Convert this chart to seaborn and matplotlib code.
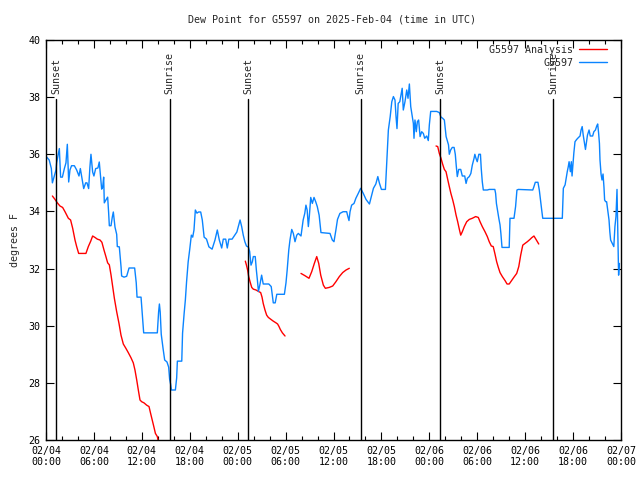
import numpy as np
import pandas as pd
import matplotlib
matplotlib.use("Agg")
import matplotlib.pyplot as plt
import seaborn as sns

# ---------------- data (hours since 2025-02-04 00:00 UTC, dew point in F) ----------------
obs_hours = [
    0.0, 0.4, 0.67, 0.8, 1.0, 1.25, 1.33, 1.54, 1.67, 1.83, 2.05, 2.3, 2.5, 2.67, 2.84, 3.0,
    3.2, 3.55, 3.84, 4.13, 4.3, 4.5, 4.72, 4.97, 5.13, 5.34, 5.5, 5.63, 5.84, 6.0, 6.22, 6.5,
    6.67, 6.84, 6.97, 7.1, 7.22, 7.3, 7.5, 7.72, 7.84, 7.93, 8.14, 8.3, 8.43, 8.64, 8.85, 8.93,
    9.18, 9.27, 9.4, 9.47, 9.77, 10.1, 10.4, 11.1, 11.3, 11.4, 11.9, 12.06, 12.23, 13.94, 14.1, 14.2,
    14.3, 14.43, 14.65, 14.86, 15.15, 15.36, 15.48, 15.6, 15.7, 16.2, 16.36, 16.45, 17.0, 17.1, 17.3, 17.45,
    17.6, 17.8, 18.0, 18.2, 18.37, 18.53, 18.7, 18.9, 19.1, 19.37, 19.57, 19.8, 20.1, 20.4, 20.8, 21.16,
    21.45, 21.7, 22.0, 22.2, 22.5, 22.7, 22.9, 23.3, 23.9, 24.3, 24.5, 24.7, 24.9, 25.1, 25.35, 25.5,
    25.67, 25.84, 25.96, 26.2, 26.34, 26.47, 26.6, 26.8, 27.0, 27.2, 27.9, 28.2, 28.46, 28.7, 28.9, 29.85,
    30.05, 30.2, 30.4, 30.55, 30.77, 30.97, 31.18, 31.4, 31.6, 31.93, 32.2, 32.4, 32.55, 32.7, 32.85, 32.97,
    33.15, 33.35, 33.56, 33.77, 33.97, 34.2, 34.43, 35.56, 35.85, 36.06, 36.3, 36.5, 36.8, 37.2, 37.65, 37.8,
    37.94, 38.07, 38.27, 38.57, 38.8, 39.1, 39.4, 39.73, 40.07, 40.5, 40.73, 41.0, 41.3, 41.55, 41.74, 42.0,
    42.5, 42.7, 42.87, 43.1, 43.3, 43.5, 43.7, 43.83, 43.95, 44.1, 44.3, 44.6, 44.74, 44.95, 45.17, 45.33,
    45.5, 45.67, 45.83, 46.0, 46.08, 46.2, 46.37, 46.5, 46.66, 46.84, 47.04, 47.25, 47.42, 47.67, 47.87, 48.0,
    48.17, 48.92, 49.25, 49.46, 49.67, 49.88, 50.1, 50.4, 50.5, 50.67, 50.87, 51.1, 51.25, 51.38, 51.5, 51.68,
    51.93, 52.13, 52.43, 52.6, 52.76, 53.0, 53.2, 53.38, 53.6, 53.7, 53.84, 54.0, 54.2, 54.4, 54.5, 54.63,
    54.76, 55.26, 55.5, 56.2, 56.3, 56.4, 56.6, 56.7, 56.85, 56.96, 57.1, 58.0, 58.1, 58.6, 58.8, 58.97,
    59.15, 60.95, 61.1, 61.27, 61.6, 61.77, 61.94, 62.07, 62.2, 64.65, 64.78, 65.0, 65.1, 65.27, 65.4, 65.5,
    65.66, 65.78, 65.87, 66.0, 66.1, 66.24, 66.45, 66.65, 66.87, 67.0, 67.14, 67.27, 67.4, 67.55, 67.68, 67.8,
    68.0, 68.15, 68.45, 68.6, 68.8, 68.96, 69.08, 69.2, 69.3, 69.37, 69.5, 69.62, 69.75, 69.87, 69.95, 70.08,
    70.2, 70.37, 70.5, 70.6, 70.7, 70.87, 71.1, 71.24, 71.37, 71.45, 71.5, 71.6, 71.7, 71.8,
]
obs_dewpt = [
    35.93, 35.8, 35.5, 35.0, 35.2, 35.45, 35.7, 36.0, 36.2, 35.2, 35.2, 35.5, 35.7, 36.35, 35.03, 35.45,
    35.6, 35.6, 35.45, 35.24, 35.5, 35.17, 34.8, 35.0, 35.0, 34.8, 35.56, 36.0, 35.38, 35.24, 35.5, 35.52,
    35.73, 35.2, 34.78, 34.86, 35.2, 34.3, 34.4, 34.5, 33.97, 33.5, 33.5, 33.8, 33.98, 33.45, 33.2, 32.77,
    32.76, 32.47, 32.05, 31.74, 31.7, 31.73, 32.02, 32.02, 31.5, 31.0, 31.0, 30.37, 29.75, 29.75, 30.48, 30.76,
    30.48, 29.7, 29.22, 28.8, 28.73, 28.55, 28.13, 27.96, 27.75, 27.75, 28.17, 28.76, 28.76, 29.74, 30.44, 30.9,
    31.53, 32.23, 32.68, 33.17, 33.1, 33.35, 34.05, 33.94, 33.98, 33.98, 33.7, 33.1, 33.03, 32.76, 32.68, 33.0,
    33.35, 33.0, 32.72, 33.03, 33.03, 32.72, 33.03, 33.03, 33.28, 33.7, 33.47, 33.17, 32.94, 32.79, 32.75, 32.6,
    32.12, 32.24, 32.42, 32.42, 31.95, 31.6, 31.2, 31.46, 31.77, 31.46, 31.46, 31.37, 30.8, 30.8, 31.1, 31.1,
    31.5, 31.95, 32.65, 33.0, 33.37, 33.23, 32.94, 33.17, 33.23, 33.14, 33.7, 33.93, 34.22, 34.05, 33.47, 33.82,
    34.49, 34.28, 34.49, 34.34, 34.17, 33.87, 33.26, 33.23, 33.0, 32.94, 33.35, 33.72, 33.93, 33.99, 33.99, 33.82,
    33.68, 33.99, 34.22, 34.28, 34.46, 34.63, 34.81, 34.63, 34.42, 34.26, 34.52, 34.81, 34.96, 35.22, 35.0, 34.77,
    34.77, 35.92, 36.85, 37.32, 37.84, 38.02, 37.9, 37.32, 36.9, 37.78, 37.84, 38.31, 37.55, 37.84, 38.25, 37.96,
    38.46, 37.67, 37.38, 37.08, 36.56, 37.2, 36.79, 37.14, 37.2, 36.62, 36.79, 36.73, 36.56, 36.64, 36.48, 37.03,
    37.5, 37.5, 37.46, 37.3, 37.26, 37.2, 36.62, 36.33, 36.0, 36.15, 36.24, 36.24, 36.0, 35.57, 35.22, 35.47,
    35.47, 35.24, 35.24, 34.98, 35.16, 35.22, 35.33, 35.62, 35.86, 36.0, 35.86, 35.74, 36.0, 36.0, 35.5, 35.04,
    34.75, 34.75, 34.77, 34.77, 34.63, 34.28, 33.93, 33.76, 33.53, 33.23, 32.74, 32.74, 33.76, 33.76, 34.17, 34.75,
    34.77, 34.75, 34.87, 35.02, 35.02, 34.75, 34.34, 34.05, 33.76, 33.76, 34.81, 34.93, 35.1, 35.39, 35.57, 35.74,
    35.39, 35.74, 35.24, 35.68, 36.06, 36.44, 36.52, 36.58, 36.64, 36.85, 36.97, 36.67, 36.44, 36.17, 36.44, 36.67,
    36.85, 36.64, 36.64, 36.79, 36.85, 36.99, 37.06, 36.73, 36.38, 35.8, 35.31, 35.1, 35.31, 34.84, 34.4, 34.34,
    34.34, 33.99, 33.7, 33.29, 33.0, 32.9, 32.77, 33.47, 33.82, 34.46, 34.77, 33.23, 31.77, 32.18,
]

# analysis series, four separate runs (the record has gaps between them)
ana1_hours = [
    0.8, 1.13, 1.42, 1.75, 2.08, 2.38, 2.8, 3.08, 3.34, 3.63, 3.84, 4.09, 5.0, 5.3, 5.6, 5.84,
    6.13, 6.43, 6.76, 7.0, 7.26, 7.5, 7.72, 7.93, 8.14, 8.35, 8.56, 8.85, 9.14, 9.39, 9.68, 10.0,
    10.3, 10.64, 10.93, 11.14, 11.36, 11.56, 11.77, 11.98, 12.27, 12.6, 12.9, 13.1, 13.3, 13.5, 13.7, 13.94,
    14.1, 14.3,
]
ana1_dewpt = [
    34.54, 34.42, 34.3, 34.19, 34.14, 33.99, 33.76, 33.7, 33.41, 33.0, 32.77, 32.53, 32.53, 32.77, 32.96, 33.14,
    33.09, 33.03, 33.0, 32.92, 32.65, 32.42, 32.2, 32.13, 31.78, 31.37, 30.96, 30.49, 30.08, 29.67, 29.36, 29.21,
    29.06, 28.88, 28.7, 28.45, 28.1, 27.75, 27.4, 27.34, 27.3, 27.22, 27.17, 26.93, 26.7, 26.47, 26.23, 26.12,
    25.9, 25.6,
]
ana2_hours = [
    24.96, 25.1, 25.26, 25.38, 25.55, 25.76, 25.96, 26.3, 26.6, 26.88, 27.05, 27.2, 27.42, 27.63, 27.84, 28.17,
    28.46, 28.8, 29.0, 29.18, 29.34, 29.6, 29.93,
]
ana2_dewpt = [
    32.26, 32.12, 31.93, 31.72, 31.54, 31.34, 31.28, 31.25, 31.2, 31.16, 31.0, 30.78, 30.55, 30.37, 30.29, 30.22,
    30.16, 30.1, 30.06, 29.97, 29.87, 29.75, 29.64,
]
ana3_hours = [
    31.93, 32.43, 32.93, 33.27, 33.6, 33.9, 34.15, 34.4, 34.73, 34.98, 35.47, 35.9, 36.3, 36.73, 37.15, 37.57,
    37.98,
]
ana3_dewpt = [
    31.83, 31.75, 31.66, 31.89, 32.18, 32.42, 32.18, 31.77, 31.42, 31.31, 31.34, 31.39, 31.54, 31.72, 31.86, 31.95,
    32.01,
]
ana4_hours = [
    48.84, 49.05, 49.25, 49.46, 49.67, 49.88, 50.09, 50.3, 50.5, 50.7, 50.93, 51.13, 51.34, 51.55, 51.76, 51.93,
    52.13, 52.38, 52.68, 53.0, 53.38, 53.8, 54.13, 54.35, 54.63, 54.97, 55.26, 55.5, 55.76, 56.0, 56.22, 56.43,
    56.64, 56.85, 57.14, 57.48, 57.73, 58.0, 58.3, 58.6, 58.94, 59.2, 59.44, 59.7, 59.98, 60.27, 60.6, 60.82,
    61.1, 61.36, 61.7,
]
ana4_dewpt = [
    36.29, 36.27, 36.03, 35.86, 35.65, 35.47, 35.39, 35.12, 34.87, 34.63, 34.4, 34.17, 33.88, 33.64, 33.37, 33.17,
    33.29, 33.47, 33.64, 33.72, 33.76, 33.82, 33.79, 33.64, 33.47, 33.29, 33.12, 32.94, 32.79, 32.77, 32.51, 32.24,
    32.04, 31.86, 31.72, 31.58, 31.46, 31.46, 31.58, 31.7, 31.83, 32.07, 32.47, 32.82, 32.88, 32.94, 33.02, 33.08,
    33.14, 33.02, 32.86,
]

sun_hours = [1.25, 15.5, 25.32, 39.42, 49.35, 63.5]
sun_labels = ["Sunset", "Sunrise", "Sunset", "Sunrise", "Sunset", "Sunrise"]

tick_hours = list(range(0, 73, 6))
tick_labels = ["02/04\n00:00", "02/04\n06:00", "02/04\n12:00", "02/04\n18:00",
               "02/05\n00:00", "02/05\n06:00", "02/05\n12:00", "02/05\n18:00",
               "02/06\n00:00", "02/06\n06:00", "02/06\n12:00", "02/06\n18:00",
               "02/07\n00:00"]

title = "Dew Point for G5597 on 2025-Feb-04 (time in UTC)"

# ---------------- plotting ----------------
sns.set_style("ticks")
plt.rcParams["font.family"] = ["DejaVu Sans Mono", "DejaVu Sans"]
plt.rcParams["font.size"] = 7.2

fig = plt.figure(figsize=(6.4, 4.8), dpi=100)
ax = fig.add_axes([46 / 640, 1 - 440 / 480, 575 / 640, 400 / 480])

runs = [(ana1_hours, ana1_dewpt), (ana2_hours, ana2_dewpt),
        (ana3_hours, ana3_dewpt), (ana4_hours, ana4_dewpt)]
ana_df = pd.concat(
    [pd.DataFrame({"hour": h, "dewpt": v, "run": i}) for i, (h, v) in enumerate(runs)],
    ignore_index=True)
obs_df = pd.DataFrame({"hour": obs_hours, "dewpt": obs_dewpt})

red = "#ff0000"
blue = "#0a84ff"

sns.lineplot(data=ana_df, x="hour", y="dewpt", units="run", estimator=None, ax=ax,
             color=red, lw=1.0, label="G5597 Analysis", sort=False)
sns.lineplot(data=obs_df, x="hour", y="dewpt", ax=ax, color=blue, lw=1.0,
             label="G5597", sort=False, estimator=None)

ax.set_xlim(0, 72)
ax.set_ylim(26, 40)

for h, lab in zip(sun_hours, sun_labels):
    ax.plot([h, h], [26, 37.92], color="black", lw=1.0)
    ax.text(h, 38.12, lab, rotation=90, ha="center", va="bottom", fontsize=7.2)

ax.set_xticks(tick_hours)
ax.set_xticklabels(tick_labels)
ax.set_xticks(np.arange(0, 73, 2), minor=True)
ax.set_yticks(np.arange(26, 41, 2))
ax.tick_params(axis="both", which="both", direction="in", top=True, right=True,
               width=0.8, colors="black", labelsize=7.2)
ax.tick_params(axis="both", which="major", length=6, pad=4)
ax.tick_params(axis="x", which="minor", length=3)
for s in ax.spines.values():
    s.set_linewidth(1.0)
    s.set_color("black")

ax.set_xlabel("")
ax.set_ylabel("degrees F", fontsize=7.2, labelpad=6)
fig.text(332 / 640, 1 - 20 / 480, title, ha="center", va="center", fontsize=7.2)

handles, labels = ax.get_legend_handles_labels()
uniq = {}
for h, l in zip(handles, labels):
    if l not in uniq:
        uniq[l] = h
ax.legend(list(uniq.values()), list(uniq.keys()), loc="upper right", frameon=False,
          markerfirst=False, handlelength=2.8, handletextpad=0.6, borderaxespad=0.1,
          labelspacing=0.3, fontsize=7.2, bbox_to_anchor=(0.985, 1.0))

fig.savefig("out.png", dpi=100)
